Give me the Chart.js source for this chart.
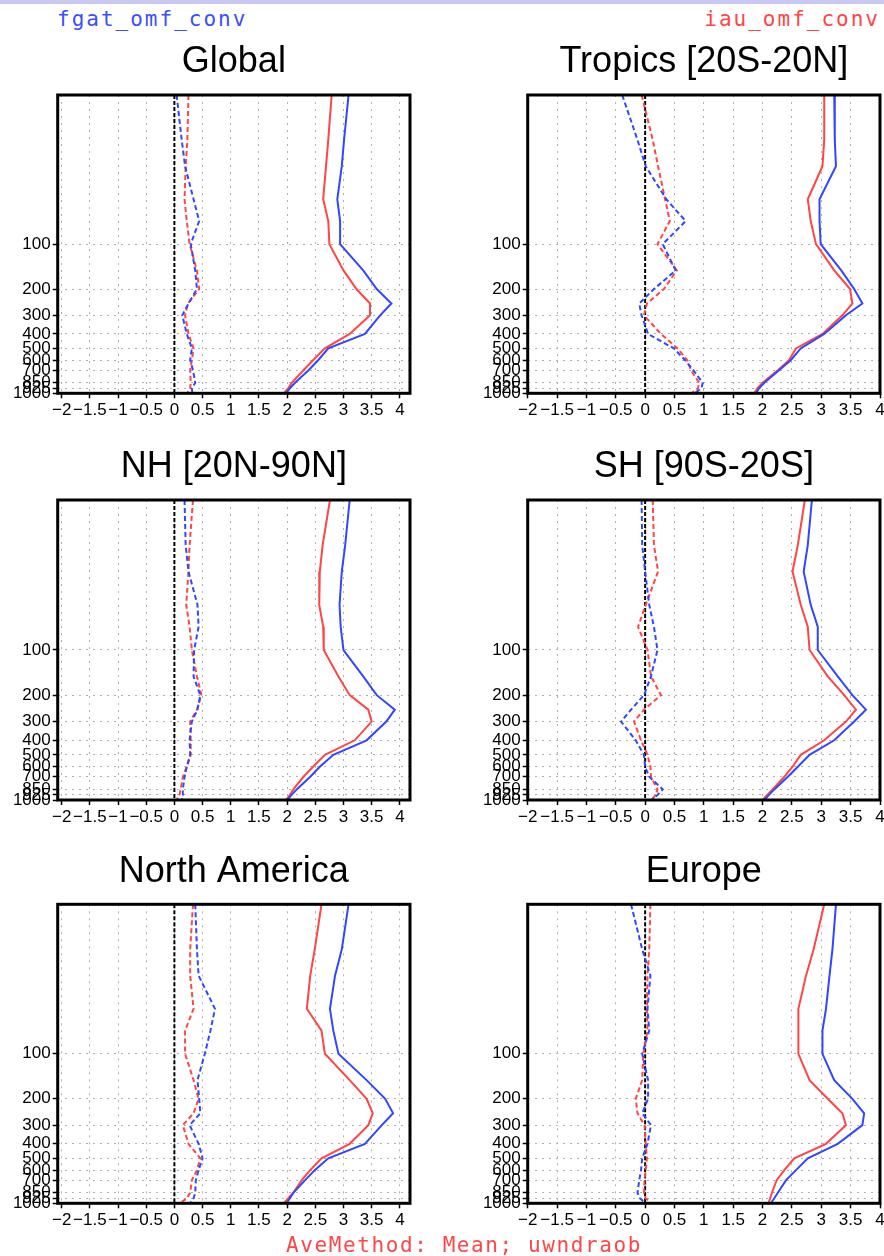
<!DOCTYPE html>
<html>
<head>
<meta charset="utf-8">
<script src="https://cdn.jsdelivr.net/npm/chart.js@4.4.1/dist/chart.umd.min.js"></script>
<style>
  body { margin: 0; width: 884px; height: 1256px; overflow: hidden; position: relative; background: #fff; }
  .band { position: absolute; left: 0; top: 0; width: 884px; height: 4px; background: #c8c8f2; }
  .note { position: absolute; font-family: "DejaVu Sans Mono", monospace; font-size: 21px; letter-spacing: 2px; line-height: 1; white-space: nowrap; }
  canvas { position: absolute; }
</style>
</head>
<body>
<div class="band"></div>
<div class="note" style="left:57px;top:9px;color:#3a50ff">fgat_omf_conv</div>
<div class="note" style="right:4px;top:9px;color:#ff4646">iau_omf_conv</div>

<canvas id="c0"></canvas>
<canvas id="c1"></canvas>
<canvas id="c2"></canvas>
<canvas id="c3"></canvas>
<canvas id="c4"></canvas>
<canvas id="c5"></canvas>

<div class="note" style="left:22px;width:884px;text-align:center;top:1235px;letter-spacing:1.6px;color:#ff4646">AveMethod: Mean; uwndraob</div>

<script>
// pressure levels (hPa) and axis ticks
const levels = [10, 20, 30, 50, 70, 100, 150, 200, 250, 300, 400, 500, 600, 700, 850, 925, 1000];
const yTickValues = [100, 200, 300, 400, 500, 600, 700, 850, 925, 1000];
const xTickValues = [-2, -1.5, -1, -0.5, 0, 0.5, 1, 1.5, 2, 2.5, 3, 3.5, 4];
const zeroLineP = [10, 1000];
const zeroLineX = [0, 0];

const regionTitles = ['Global', 'Tropics [20S-20N]', 'NH [20N-90N]', 'SH [90S-20S]', 'North America', 'Europe'];

// fgat = blue, iau = red; rms solid, bias dashed
const globalFgatRms  = [3.09, 3.01, 2.97, 2.89, 2.94, 2.94, 3.35, 3.59, 3.85, 3.65, 3.38, 2.73, 2.55, 2.38, 2.14, 2.05, 1.98];
const globalIauRms   = [2.79, 2.73, 2.69, 2.64, 2.73, 2.75, 3.00, 3.23, 3.47, 3.47, 3.11, 2.67, 2.46, 2.29, 2.08, 2.02, 1.94];
const globalFgatBias = [0.04, 0.13, 0.19, 0.34, 0.44, 0.29, 0.37, 0.40, 0.25, 0.14, 0.22, 0.31, 0.28, 0.33, 0.37, 0.31, 0.32];
const globalIauBias  = [0.25, 0.23, 0.20, 0.18, 0.22, 0.27, 0.40, 0.44, 0.24, 0.19, 0.25, 0.34, 0.31, 0.28, 0.29, 0.28, 0.23];

const tropicsFgatRms  = [3.22, 3.23, 3.25, 2.97, 2.97, 2.99, 3.34, 3.56, 3.70, 3.42, 3.05, 2.65, 2.48, 2.28, 2.03, 1.94, 1.89];
const tropicsIauRms   = [3.05, 3.05, 3.02, 2.77, 2.82, 2.91, 3.22, 3.49, 3.53, 3.36, 3.02, 2.57, 2.45, 2.26, 2.00, 1.91, 1.86];
const tropicsFgatBias = [-0.39, -0.13, 0.01, 0.36, 0.69, 0.30, 0.52, 0.15, -0.10, -0.06, 0.05, 0.49, 0.68, 0.82, 0.98, 0.96, 0.84];
const tropicsIauBias  = [-0.06, 0.13, 0.22, 0.34, 0.42, 0.21, 0.54, 0.32, 0.03, -0.02, 0.27, 0.55, 0.72, 0.78, 0.92, 0.90, 0.79];

const nhFgatRms  = [3.11, 3.03, 2.97, 2.93, 2.95, 3.00, 3.35, 3.59, 3.91, 3.76, 3.41, 2.82, 2.58, 2.41, 2.17, 2.08, 2.00];
const nhIauRms   = [2.76, 2.63, 2.58, 2.57, 2.64, 2.65, 2.91, 3.11, 3.44, 3.50, 3.20, 2.67, 2.46, 2.29, 2.11, 2.05, 1.98];
const nhFgatBias = [0.18, 0.20, 0.25, 0.41, 0.43, 0.35, 0.34, 0.46, 0.41, 0.31, 0.27, 0.28, 0.22, 0.18, 0.15, 0.15, 0.13];
const nhIauBias  = [0.33, 0.27, 0.25, 0.21, 0.27, 0.31, 0.40, 0.48, 0.40, 0.28, 0.29, 0.29, 0.22, 0.15, 0.11, 0.09, 0.04];

const shFgatRms  = [2.84, 2.77, 2.70, 2.82, 2.94, 2.94, 3.28, 3.53, 3.76, 3.56, 3.22, 2.80, 2.60, 2.43, 2.20, 2.11, 2.03];
const shIauRms   = [2.72, 2.60, 2.51, 2.65, 2.77, 2.80, 3.11, 3.39, 3.59, 3.42, 3.05, 2.65, 2.51, 2.37, 2.17, 2.08, 2.00];
const shFgatBias = [-0.06, -0.05, 0.00, 0.07, 0.15, 0.21, 0.10, -0.02, -0.24, -0.41, -0.16, -0.02, 0.00, 0.07, 0.30, 0.21, 0.11];
const shIauBias  = [0.13, 0.15, 0.22, 0.01, -0.12, 0.04, 0.10, 0.27, -0.02, -0.19, -0.07, 0.04, 0.09, 0.10, 0.21, 0.18, 0.11];

const naFgatRms  = [3.09, 2.97, 2.85, 2.76, 2.82, 2.91, 3.41, 3.74, 3.88, 3.68, 3.38, 2.73, 2.49, 2.32, 2.11, 2.05, 1.99];
const naIauRms   = [2.61, 2.49, 2.41, 2.35, 2.61, 2.67, 3.11, 3.41, 3.52, 3.44, 3.11, 2.61, 2.41, 2.26, 2.11, 2.02, 1.94];
const naFgatBias = [0.37, 0.40, 0.43, 0.72, 0.64, 0.54, 0.41, 0.44, 0.46, 0.27, 0.43, 0.50, 0.43, 0.38, 0.37, 0.34, 0.28];
const naIauBias  = [0.33, 0.28, 0.28, 0.34, 0.19, 0.19, 0.34, 0.43, 0.34, 0.15, 0.25, 0.46, 0.40, 0.31, 0.28, 0.22, 0.10];

const euFgatRms  = [3.25, 3.19, 3.14, 3.08, 3.02, 3.02, 3.22, 3.53, 3.73, 3.70, 3.28, 2.77, 2.57, 2.40, 2.26, 2.20, 2.14];
const euIauRms   = [3.05, 2.87, 2.74, 2.61, 2.61, 2.61, 2.80, 3.11, 3.36, 3.42, 3.08, 2.54, 2.37, 2.24, 2.16, 2.13, 2.10];
const euFgatBias = [-0.24, -0.05, 0.09, 0.04, 0.07, -0.05, 0.05, 0.05, -0.05, 0.10, 0.04, -0.05, -0.07, -0.10, -0.13, -0.09, 0.01];
const euIauBias  = [0.09, 0.07, 0.04, 0.03, 0.04, -0.03, -0.05, -0.16, -0.13, -0.01, 0.01, 0.03, 0.01, -0.01, -0.02, 0.01, 0.10];

const regionSeries = [
  [globalFgatRms, globalIauRms, globalFgatBias, globalIauBias],
  [tropicsFgatRms, tropicsIauRms, tropicsFgatBias, tropicsIauBias],
  [nhFgatRms, nhIauRms, nhFgatBias, nhIauBias],
  [shFgatRms, shIauRms, shFgatBias, shIauBias],
  [naFgatRms, naIauRms, naFgatBias, naIauBias],
  [euFgatRms, euIauRms, euFgatBias, euIauBias]
];

const BLUE = '#3346ff';
const RED = '#ff4545';
Chart.defaults.font.family = '"Liberation Sans", Arial, sans-serif';

// page layout of the 3x2 grid
const rows = [
  { titleMid: 62.2, boxTop: 95, boxBottom: 393.3 },
  { titleMid: 467.5, boxTop: 500, boxBottom: 800 },
  { titleMid: 872, boxTop: 904.3, boxBottom: 1203.3 }
];
const cols = [
  { left: 0, width: 440, axisW: 57.7, padRight: 30, xMin: -2.07, xMax: 4.18 },
  { left: 440, width: 460, axisW: 87.7, padRight: 20, xMin: -2, xMax: 4 }
];

const frame = {
  id: 'frame',
  afterDatasetsDraw(chart) {
    const a = chart.chartArea, ctx = chart.ctx;
    ctx.save();
    ctx.strokeStyle = '#000';
    ctx.lineWidth = 3;
    ctx.strokeRect(a.left, a.top, a.right - a.left, a.bottom - a.top);
    ctx.restore();
  }
};

function profile(values, color, dashed) {
  return {
    data: levels.map((p, i) => ({ x: values[i], y: p })),
    borderColor: color,
    borderWidth: 2,
    borderDash: dashed ? [5, 3] : [],
    showLine: true,
    pointRadius: 0,
    fill: false
  };
}

function fmt(v) {
  return String(v).replace('-', '\u2212');
}

regionTitles.forEach((title, k) => {
  const row = rows[Math.floor(k / 2)];
  const col = cols[k % 2];
  const top = Math.round(row.titleMid - 32);
  const height = Math.round(row.boxBottom + 38 - top);
  const xAxisH = top + height - row.boxBottom;

  const canvas = document.getElementById('c' + k);
  canvas.width = col.width;
  canvas.height = height;
  canvas.style.left = col.left + 'px';
  canvas.style.top = top + 'px';

  const [fgatRms, iauRms, fgatBias, iauBias] = regionSeries[k];

  new Chart(canvas.getContext('2d'), {
    type: 'scatter',
    data: {
      datasets: [
        profile(fgatRms, BLUE, false),
        profile(iauRms, RED, false),
        profile(fgatBias, BLUE, true),
        profile(iauBias, RED, true),
        {
          data: zeroLineP.map((p, i) => ({ x: zeroLineX[i], y: p })),
          borderColor: '#000', borderWidth: 2, borderDash: [4, 2],
          showLine: true, pointRadius: 0
        }
      ]
    },
    options: {
      responsive: false,
      animation: false,
      devicePixelRatio: 1,
      layout: { padding: { left: 0, right: col.padRight, top: 0, bottom: 0 } },
      plugins: {
        legend: { display: false },
        tooltip: { enabled: false },
        title: {
          display: true,
          text: title,
          fullSize: false,
          color: '#000',
          font: { size: 36, weight: 'normal' },
          padding: { top: row.titleMid - 21.6 - top, bottom: row.boxTop - row.titleMid - 21.6 }
        }
      },
      scales: {
        x: {
          type: 'linear',
          min: col.xMin,
          max: col.xMax,
          afterBuildTicks: (s) => { s.ticks = xTickValues.map(v => ({ value: v })); },
          afterFit: (s) => { s.height = xAxisH; },
          ticks: { autoSkip: false, maxRotation: 0, padding: 2, color: '#000', font: { size: 17 }, callback: fmt },
          grid: { color: '#b0b0b0', lineWidth: 1, tickLength: 5, tickColor: '#000', tickWidth: 1.5, tickBorderDash: [] },
          border: { display: false, dash: [2, 5] }
        },
        y: {
          type: 'logarithmic',
          reverse: true,
          min: 10,
          max: 1000,
          afterBuildTicks: (s) => { s.ticks = yTickValues.map(v => ({ value: v })); },
          afterFit: (s) => { s.width = col.axisW; },
          ticks: { autoSkip: false, padding: 2, color: '#000', font: { size: 17 }, callback: (v) => String(v) },
          grid: { color: '#b0b0b0', lineWidth: 1, tickLength: 5, tickColor: '#000', tickWidth: 1.5, tickBorderDash: [] },
          border: { display: false, dash: [2, 5] }
        }
      }
    },
    plugins: [frame]
  });
});
</script>
</body>
</html>
